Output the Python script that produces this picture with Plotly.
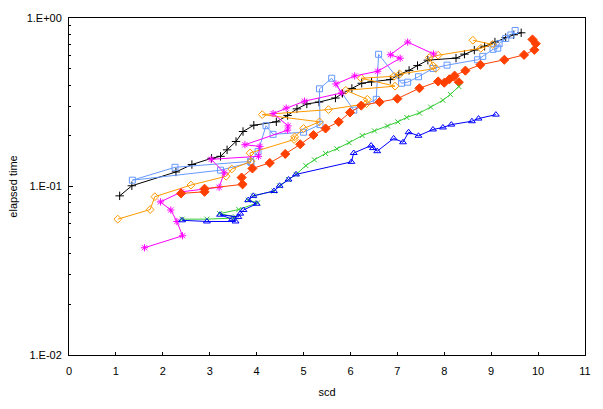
import plotly.graph_objects as go

# ---- data ----
black_x = [1.08, 1.34, 2.28, 2.62, 3.04, 3.23, 3.37, 3.56, 3.71, 3.94, 4.42, 4.66, 4.86, 5.07, 5.33, 5.68,
           5.83, 6.03, 6.24, 6.45, 6.85, 7.03, 7.25, 7.43, 7.65, 8.25, 8.43, 8.64, 8.86, 9.08, 9.31, 9.48, 9.64]
black_y = [0.088, 0.101, 0.122, 0.135, 0.147, 0.151, 0.165, 0.185, 0.212, 0.231, 0.242, 0.264, 0.289, 0.309,
           0.317, 0.335, 0.357, 0.382, 0.410, 0.418, 0.431, 0.460, 0.489, 0.522, 0.562, 0.578, 0.610, 0.645,
           0.680, 0.720, 0.765, 0.795, 0.817]

lblue_x = [3.88, 3.23, 1.35, 2.26, 3.87, 4.03, 4.20, 4.35, 5.00, 5.35, 5.34, 5.60, 6.07, 6.55, 6.60, 7.09,
           7.22, 7.45, 7.76, 8.06, 8.71, 8.82, 9.04, 9.14, 9.17, 9.31, 9.42, 9.51]
lblue_y = [0.139, 0.125, 0.109, 0.130, 0.141, 0.161, 0.2295, 0.204, 0.210, 0.233, 0.380, 0.439, 0.284, 0.329,
           0.609, 0.410, 0.416, 0.448, 0.502, 0.525, 0.565, 0.592, 0.652, 0.662, 0.704, 0.756, 0.793, 0.843]

orange_x = [1.04, 1.73, 1.83, 2.60, 3.35, 3.47, 3.88, 3.86, 4.80, 4.81, 5.00, 5.34, 4.12, 5.53, 6.34, 6.36,
            5.90, 6.95, 6.23, 6.93, 7.05, 7.82, 7.76, 7.68, 7.87, 8.78, 9.03, 8.61]
orange_y = [0.064, 0.073, 0.087, 0.102, 0.115, 0.127, 0.141, 0.158, 0.190, 0.197, 0.221, 0.242, 0.267, 0.286,
            0.310, 0.329, 0.372, 0.394, 0.439, 0.451, 0.465, 0.502, 0.521, 0.582, 0.601, 0.661, 0.697, 0.738]

magenta_x = [1.61, 2.42, 2.30, 2.17, 1.95, 2.40, 3.20, 3.31, 3.03, 4.04, 4.07, 3.75, 4.66, 4.67, 4.35, 4.63,
             5.02, 5.81, 5.69, 6.09, 6.58, 7.06, 6.85, 7.22, 7.77]
magenta_y = [0.0433, 0.051, 0.062, 0.0725, 0.081, 0.093, 0.099, 0.1205, 0.145, 0.151, 0.173, 0.177, 0.216,
             0.229, 0.271, 0.292, 0.321, 0.359, 0.406, 0.453, 0.483, 0.577, 0.605, 0.720, 0.612]

red_x = [2.39, 2.89, 2.89, 3.70, 3.68, 3.91, 4.28, 4.61, 4.93, 5.21, 5.47, 5.75, 5.99, 6.23, 6.62, 7.00,
         7.47, 7.87, 8.00, 8.11, 8.31, 8.22, 8.45, 8.77, 9.28, 9.70, 9.92, 9.95, 9.88]
red_y = [0.091, 0.093, 0.097, 0.103, 0.113, 0.128, 0.138, 0.156, 0.178, 0.202, 0.221, 0.242, 0.275, 0.302,
         0.317, 0.332, 0.383, 0.420, 0.413, 0.433, 0.416, 0.455, 0.487, 0.528, 0.565, 0.604, 0.647, 0.704, 0.746]

green_x = [2.41, 2.94, 3.51, 3.55, 3.21, 3.62, 4.02, 3.82, 3.93, 4.37, 4.49, 4.68, 4.84, 5.05, 5.23, 5.47,
           5.71, 5.97, 6.25, 6.51, 6.79, 7.01, 7.20, 7.47, 7.71, 7.97, 8.13, 8.31]
green_y = [0.064, 0.064, 0.065, 0.066, 0.069, 0.073, 0.080, 0.083, 0.088, 0.094, 0.101, 0.110, 0.118, 0.133,
           0.144, 0.157, 0.1675, 0.182, 0.2005, 0.214, 0.2285, 0.242, 0.257, 0.273, 0.296, 0.325, 0.352, 0.392]

blue_x = [2.41, 2.94, 3.55, 3.48, 3.22, 3.61, 3.65, 3.72, 4.00, 3.82, 3.93, 4.37, 4.49, 4.68, 4.84, 6.02,
          6.07, 6.44, 6.48, 6.57, 6.92, 7.12, 7.24, 7.45, 7.76, 7.97, 8.15, 8.59, 8.73, 9.10]
blue_y = [0.063, 0.062, 0.062, 0.064, 0.068, 0.066, 0.069, 0.0725, 0.079, 0.083, 0.088, 0.094, 0.101, 0.110,
          0.118, 0.140, 0.158, 0.175, 0.169, 0.162, 0.193, 0.183, 0.210, 0.200, 0.218, 0.224, 0.233, 0.244,
          0.253, 0.267]

y_tickvals = [0.01, 0.1, 1]
y_ticktext = ["1.E-02", "1.E-01", "1.E+00"]
x_tickvals = list(range(0, 12))

series = [
    (black_x, black_y, "#000000", "cross-thin-open", 6),
    (lblue_x, lblue_y, "#6699FF", "square-open", 6),
    (orange_x, orange_y, "#FF9900", "diamond-open", 6),
    (magenta_x, magenta_y, "#FF00FF", "asterisk-open", 6),
    (red_x, red_y, "#FF4000", "diamond", 7),
    (green_x, green_y, "#33CC33", "x-thin-open", 5),
    (blue_x, blue_y, "#0000FF", "triangle-up-open", 6),
]

fig = go.Figure()
for xs, ys, col, sym, sz in series:
    fig.add_trace(go.Scatter(
        x=xs, y=ys, mode="lines+markers",
        line=dict(color=col, width=1),
        marker=dict(symbol=sym, size=sz, color=col, line=dict(color=col, width=1)),
        showlegend=False,
    ))

minor_vals = [m * d for d in (0.01, 0.1) for m in range(2, 10)]

fig.update_layout(
    width=603, height=409,
    margin=dict(l=69, r=13, t=15, b=53),
    paper_bgcolor="white", plot_bgcolor="white",
    font=dict(family="Liberation Sans, Arial, sans-serif", size=11, color="black"),
    xaxis=dict(
        range=[0, 11], tickmode="array", tickvals=x_tickvals,
        ticks="inside", ticklen=3, tickcolor="black",
        showline=True, linecolor="black", linewidth=1, mirror=True,
        showgrid=False, zeroline=False,
        ticklabelstandoff=6,
        title=dict(text="scd", standoff=12, font=dict(size=11)),
    ),
    yaxis=dict(
        type="log", range=[-2, 0], tickmode="array",
        tickvals=y_tickvals, ticktext=y_ticktext,
        ticks="inside", ticklen=4, tickcolor="black",
        minor=dict(tickmode="array", tickvals=minor_vals, ticks="inside", ticklen=2, tickcolor="black"),
        showline=True, linecolor="black", linewidth=1, mirror=True,
        showgrid=False, zeroline=False,
        ticklabelstandoff=4,
        title=dict(text="elapsed time", standoff=6, font=dict(size=11)),
    ),
)

fig.write_html("out.html")
